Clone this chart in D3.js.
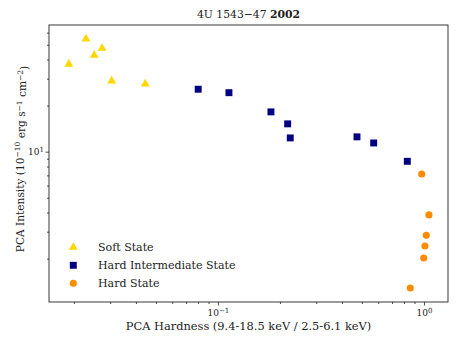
<!DOCTYPE html>
<html>
<head>
<meta charset="utf-8">
<script src="https://cdn.jsdelivr.net/npm/d3@7"></script>
<style>
  body { margin: 0; background: #fff; }
  text { font-family: "DejaVu Serif", serif; fill: #222; }
</style>
</head>
<body>
<div id="chart"></div>
<script>
// hardness / intensity
const softHard = [0.0189, 0.0229, 0.0251, 0.0274, 0.0305, 0.0444];
const softInt  = [37.3, 54.6, 42.7, 47.4, 29.0, 27.7];
const himsHard = [0.0802, 0.1131, 0.1808, 0.218, 0.2244, 0.473, 0.570, 0.830];
const himsInt  = [25.6, 24.3, 18.2, 15.2, 12.3, 12.5, 11.4, 8.65];
const hardHard = [0.975, 1.057, 1.026, 1.011, 0.997, 0.858];
const hardInt  = [7.15, 3.86, 2.84, 2.42, 2.02, 1.285];

const states = [
  {name: "Soft State", color: "#FFD700", symbol: d3.symbolTriangle, size: 34, xs: softHard, ys: softInt},
  {name: "Hard Intermediate State", color: "#000080", symbol: d3.symbolSquare, size: 48, xs: himsHard, ys: himsInt},
  {name: "Hard State", color: "#FF8C00", symbol: d3.symbolCircle, size: 40, xs: hardHard, ys: hardInt}
];

const W = 463, H = 347;
const margin = {top: 25, right: 15, bottom: 45, left: 49};

const svg = d3.select("#chart").append("svg")
    .attr("width", W).attr("height", H);

const x = d3.scaleLog()
    .domain([0.01514, 1.308])
    .range([margin.left, W - margin.right]);
const y = d3.scaleLog()
    .domain([1.041, 67.3])
    .range([H - margin.bottom, margin.top]);

const isDecade = (d) => Math.abs(Math.log10(d) - Math.round(Math.log10(d))) < 1e-6;

function supLabel(sel, d) {
    const e = Math.round(Math.log10(d));
    sel.text("10");
    sel.append("tspan").attr("dy", "-0.45em").attr("font-size", "7px")
        .text(e < 0 ? "\u2212" + (-e) : e);
}

// x axis
const gx = svg.append("g")
    .attr("transform", `translate(0,${H - margin.bottom})`)
    .call(d3.axisBottom(x).tickValues(x.ticks()).tickFormat(""));
gx.select(".domain").remove();
gx.selectAll(".tick line")
    .attr("y2", (d) => isDecade(d) ? 3.5 : 2)
    .attr("stroke", "#222").attr("stroke-width", 0.8);
gx.selectAll(".tick").filter(isDecade).select("text")
    .attr("y", 8).attr("font-size", "9px")
    .each(function(d) { supLabel(d3.select(this), d); });

// y axis
const gy = svg.append("g")
    .attr("transform", `translate(${margin.left},0)`)
    .call(d3.axisLeft(y).tickValues(y.ticks()).tickFormat(""));
gy.select(".domain").remove();
gy.selectAll(".tick line")
    .attr("x2", (d) => isDecade(d) ? -3.5 : -2)
    .attr("stroke", "#222").attr("stroke-width", 0.8);
gy.selectAll(".tick").filter(isDecade).select("text")
    .attr("x", -5).attr("dy", "0.35em").attr("font-size", "9px")
    .each(function(d) { supLabel(d3.select(this), d); });

// frame
svg.append("rect")
    .attr("x", margin.left).attr("y", margin.top)
    .attr("width", W - margin.left - margin.right)
    .attr("height", H - margin.top - margin.bottom)
    .attr("fill", "none").attr("stroke", "#222").attr("stroke-width", 0.9);

// points
states.forEach((s) => {
    svg.append("g").selectAll("path")
        .data(s.xs.map((v, i) => [v, s.ys[i]]))
        .join("path")
            .attr("transform", (d) => `translate(${x(d[0])},${y(d[1])})`)
            .attr("d", d3.symbol().type(s.symbol).size(s.size)())
            .attr("fill", s.color);
});

// legend
const legend = svg.append("g");
states.forEach((s, i) => {
    const ly = 247.3 + i * 18;
    legend.append("path")
        .attr("transform", `translate(73.3,${ly})`)
        .attr("d", d3.symbol().type(s.symbol).size(s.size)())
        .attr("fill", s.color);
    legend.append("text")
        .attr("x", 98).attr("y", ly).attr("dy", "0.35em")
        .attr("font-size", "11px")
        .text(s.name);
});

// title
const title = svg.append("text")
    .attr("x", (margin.left + W - margin.right) / 2).attr("y", 18)
    .attr("text-anchor", "middle").attr("font-size", "10.8px");
title.append("tspan").text("4U 1543\u221247   ");
title.append("tspan").attr("font-weight", "bold").text("2002");

// axis labels
svg.append("text")
    .attr("x", (margin.left + W - margin.right) / 2).attr("y", 330)
    .attr("text-anchor", "middle").attr("font-size", "11.4px")
    .text("PCA Hardness (9.4-18.5 keV / 2.5-6.1 keV)");

const yl = svg.append("text")
    .attr("transform", `translate(23.5,159) rotate(-90)`)
    .attr("text-anchor", "middle").attr("font-size", "10.6px");
yl.append("tspan").text("PCA Intensity (10");
yl.append("tspan").attr("dy", "-0.45em").attr("font-size", "7.5px").text("\u221210");
yl.append("tspan").attr("dy", "0.45em").text(" erg s");
yl.append("tspan").attr("dy", "-0.45em").attr("font-size", "7.5px").text("\u22121");
yl.append("tspan").attr("dy", "0.45em").text(" cm");
yl.append("tspan").attr("dy", "-0.45em").attr("font-size", "7.5px").text("\u22122");
yl.append("tspan").attr("dy", "0.45em").text(")");
</script>
</body>
</html>
